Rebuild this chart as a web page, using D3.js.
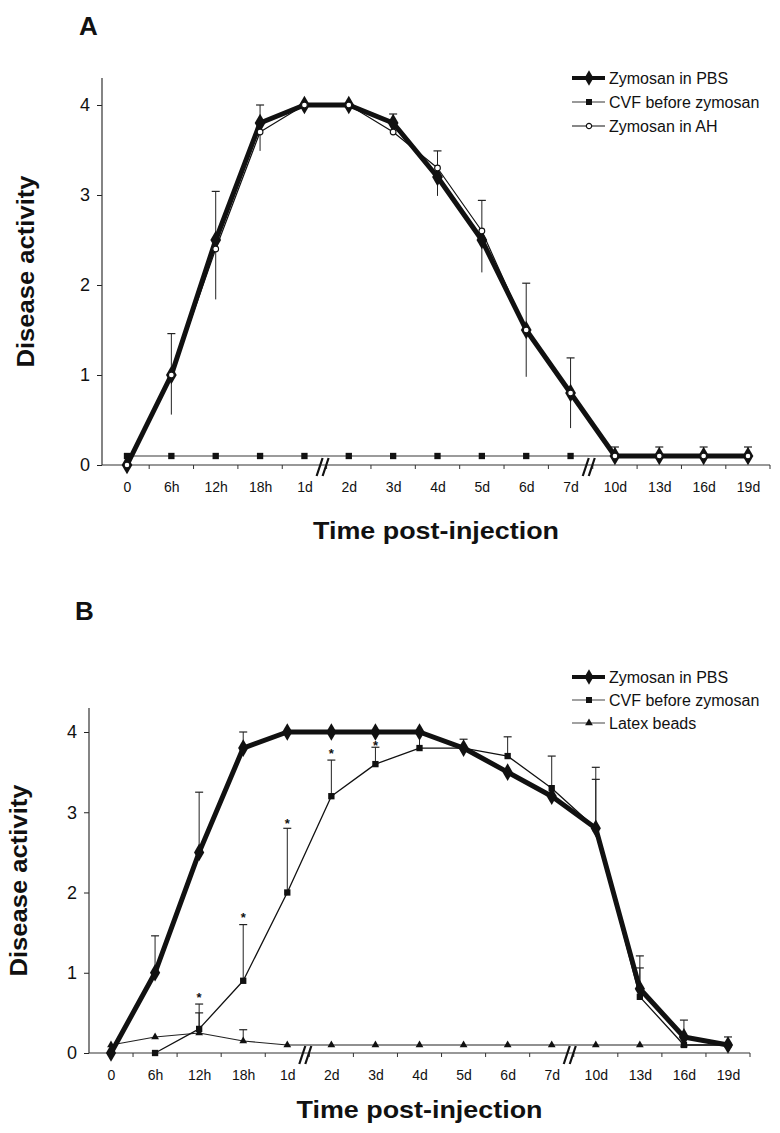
<!DOCTYPE html>
<html><head><meta charset="utf-8">
<script src="https://cdn.jsdelivr.net/npm/d3@7"></script>
<style>body{margin:0;background:#fff}svg{display:block}text{font-family:"Liberation Sans",Arial,sans-serif;fill:#111}</style>
</head><body>
<script>
const categories = ["0","6h","12h","18h","1d","2d","3d","4d","5d","6d","7d","10d","13d","16d","19d"];
const yTicks = [0,1,2,3,4];
const breakAfter = ["1d","7d"];

// Panel A
const aPBS = [0, 1, 2.5, 3.8, 4, 4, 3.8, 3.2, 2.5, 1.5, 0.8, 0.1, 0.1, 0.1, 0.1];
const aCVF = [0.1, 0.1, 0.1, 0.1, 0.1, 0.1, 0.1, 0.1, 0.1, 0.1, 0.1, 0.1, 0.1, 0.1, 0.1];
const aAH  = [0, 1, 2.4, 3.7, 4, 4, 3.7, 3.3, 2.6, 1.5, 0.8, 0.1, 0.1, 0.1, 0.1];
const aErrHi = [null, 1.46, 3.04, 4.0, null, null, 3.9, 3.49, 2.94, 2.02, 1.19, 0.2, 0.2, 0.2, 0.2];
const aErrLo = [null, 0.56, 1.84, 3.49, null, null, 3.7, 2.99, 2.14, 0.98, 0.41, 0.1, 0.1, 0.1, 0.1];
const aLegend = ["Zymosan in PBS", "CVF before zymosan", "Zymosan in AH"];

// Panel B
const bPBS   = [0, 1, 2.5, 3.8, 4, 4, 4, 4, 3.8, 3.5, 3.2, 2.8, 0.8, 0.2, 0.1];
const bCVF   = [null, 0, 0.3, 0.9, 2.0, 3.2, 3.6, 3.8, 3.8, 3.7, 3.3, 2.8, 0.7, 0.1, 0.1];
const bLatex = [0.1, 0.2, 0.25, 0.15, 0.1, 0.1, 0.1, 0.1, 0.1, 0.1, 0.1, 0.1, 0.1, 0.1, 0.1];
const bPBSErr   = [null, 1.46, 3.25, 4.0, null, null, null, null, 3.91, null, null, 3.56, 1.21, 0.41, 0.2];
const bCVFErr   = [null, null, 0.61, 1.6, 2.8, 3.65, 3.81, 4.0, null, 3.94, 3.7, 3.41, 1.06, null, null];
const bLatexErr = [null, null, 0.5, 0.29, null, null, null, null, null, null, null, null, null, null, null];
const bStars    = [null, null, 0.74, 1.73, 2.9, 3.77, 3.87, null, null, null, null, null, null, null, null];
const bLegend = ["Zymosan in PBS", "CVF before zymosan", "Latex beads"];

const svg = d3.select("body").append("svg").attr("width", 780).attr("height", 1133);

function drawPanel(o) {
  const g = svg.append("g");
  const x = d3.scalePoint().domain(categories).range([o.x0, o.x1]);
  const y = d3.scaleLinear().domain([0, 4]).range([o.y0, o.y4]);
  const step = x.step();

  g.append("text").attr("x", o.letterX).attr("y", o.letterY).attr("font-size", 26).attr("font-weight", "bold").text(o.letter);

  const ya = g.append("g").attr("transform", `translate(${o.ax0},0)`)
    .call(d3.axisLeft(y).tickValues(yTicks).tickFormat(d3.format("d")).tickSize(5).tickPadding(7));
  ya.select(".domain").remove();
  ya.selectAll("line").attr("stroke", "#222");
  ya.selectAll("text").attr("font-size", 18).attr("fill", "#111");
  g.append("line").attr("x1", o.ax0).attr("x2", o.ax0).attr("y1", o.yTop).attr("y2", o.y0).attr("stroke", "#333").attr("stroke-width", 1.2);

  const xa = g.append("g").attr("transform", `translate(0,${o.y0})`)
    .call(d3.axisBottom(x).tickSize(0).tickPadding(17));
  xa.select(".domain").remove();
  xa.selectAll("text").attr("font-size", 14).attr("fill", "#111");
  g.append("line").attr("x1", o.ax0).attr("x2", o.ax1).attr("y1", o.y0).attr("y2", o.y0).attr("stroke", "#333").attr("stroke-width", 1.2);
  const mids = categories.slice(0, -1).map(c => x(c) + step / 2);
  g.selectAll(".xt").data(mids).enter().append("line")
    .attr("x1", d => d).attr("x2", d => d).attr("y1", o.y0).attr("y2", o.y0 + 4).attr("stroke", "#333");
  g.append("line").attr("x1", o.ax1).attr("x2", o.ax1).attr("y1", o.y0).attr("y2", o.y0 + 4).attr("stroke", "#333");

  breakAfter.forEach(c => {
    const bx = x(c) + step / 2 - 4;
    [-3, 3].forEach(dx => {
      g.append("line").attr("x1", bx + dx - 3).attr("x2", bx + dx + 3)
        .attr("y1", o.y0 + 11).attr("y2", o.y0 - 7).attr("stroke", "#111").attr("stroke-width", 2.2);
    });
  });

  g.append("text").attr("x", (o.ax0 + o.ax1) / 2).attr("y", o.xTitleY).attr("text-anchor", "middle")
    .attr("font-size", 24).attr("font-weight", "bold").attr("textLength", 246).attr("lengthAdjust", "spacingAndGlyphs")
    .text("Time post-injection");
  g.append("text").attr("transform", `translate(${o.yTitleX},${(o.yTop + o.y0) / 2}) rotate(-90)`).attr("text-anchor", "middle")
    .attr("font-size", 23).attr("font-weight", "bold").attr("textLength", 192).attr("lengthAdjust", "spacingAndGlyphs")
    .text("Disease activity");

  return {g, x, y};
}

function series(g, x, y, vals, stroke, width) {
  const pts = categories.map((c, i) => [c, vals[i]]).filter(d => d[1] != null);
  g.append("path").datum(pts).attr("fill", "none").attr("stroke", stroke).attr("stroke-width", width)
    .attr("stroke-linejoin", "round")
    .attr("d", d3.line().x(d => x(d[0])).y(d => y(d[1])));
  return pts;
}
function markers(g, x, y, pts, type, size, fill, stroke, sw) {
  g.selectAll(null).data(pts).enter().append("path")
    .attr("transform", d => `translate(${x(d[0])},${y(d[1])})`)
    .attr("d", d3.symbol().type(type).size(size))
    .attr("fill", fill).attr("stroke", stroke || "none").attr("stroke-width", sw || 0);
}
function errBar(g, x, y, c, lo, hi, cap) {
  g.append("line").attr("x1", x(c)).attr("x2", x(c)).attr("y1", y(lo)).attr("y2", y(hi)).attr("stroke", "#222").attr("stroke-width", 1);
  g.append("line").attr("x1", x(c) - cap).attr("x2", x(c) + cap).attr("y1", y(hi)).attr("y2", y(hi)).attr("stroke", "#222").attr("stroke-width", 1.2);
}
function legend(g, lx, ly, dy, items) {
  items.forEach((it, i) => {
    const yy = ly + i * dy;
    g.append("line").attr("x1", lx).attr("x2", lx + 33).attr("y1", yy).attr("y2", yy).attr("stroke", it.stroke).attr("stroke-width", it.width);
    g.append("path").attr("transform", `translate(${lx + 17},${yy})`).attr("d", d3.symbol().type(it.type).size(it.size))
      .attr("fill", it.fill).attr("stroke", it.ms || "none").attr("stroke-width", it.msw || 0);
    g.append("text").attr("x", lx + 37).attr("y", yy + 5.5).attr("font-size", 16).text(it.label);
  });
}

// ---------- Panel A ----------
{
  const {g, x, y} = drawPanel({letter: "A", letterX: 79, letterY: 35, x0: 127, x1: 748, ax0: 102, ax1: 770,
    y0: 465, y4: 105, yTop: 78, xTitleY: 539, yTitleX: 34});
  categories.forEach((c, i) => { if (aErrHi[i] != null) errBar(g, x, y, c, aErrLo[i], aErrHi[i], 4); });
  const cvf = series(g, x, y, aCVF, "#7a7a7a", 1.6);
  markers(g, x, y, cvf.slice(0, 11), d3.symbolSquare, 40, "#111");
  const pbs = series(g, x, y, aPBS, "#111", 5);
  const ah = series(g, x, y, aAH, "#111", 1.2);
  markers(g, x, y, pbs, d3.symbolDiamond, 100, "#111");
  markers(g, x, y, ah, d3.symbolCircle, 26, "#fff", "#111", 1.1);
  legend(g, 572, 78, 24, [
    {label: aLegend[0], stroke: "#111", width: 4, type: d3.symbolDiamond, size: 70, fill: "#111"},
    {label: aLegend[1], stroke: "#777", width: 1.5, type: d3.symbolSquare, size: 36, fill: "#111"},
    {label: aLegend[2], stroke: "#111", width: 1.2, type: d3.symbolCircle, size: 22, fill: "#fff", ms: "#111", msw: 1.2}
  ]);
}

// ---------- Panel B ----------
{
  const {g, x, y} = drawPanel({letter: "B", letterX: 75, letterY: 620, x0: 111, x1: 728, ax0: 89, ax1: 750,
    y0: 1053, y4: 732, yTop: 708, xTitleY: 1118, yTitleX: 27});
  categories.forEach((c, i) => {
    if (bPBSErr[i] != null) errBar(g, x, y, c, bPBS[i], bPBSErr[i], 4);
    if (bCVFErr[i] != null) errBar(g, x, y, c, bCVF[i], bCVFErr[i], 4);
    if (bLatexErr[i] != null) errBar(g, x, y, c, bLatex[i], bLatexErr[i], 4);
    if (bStars[i] != null) g.append("text").attr("x", x(c)).attr("y", y(bStars[i]) + 8).attr("text-anchor", "middle")
      .attr("font-size", 13).attr("font-weight", "bold").text("*");
  });
  const lat = series(g, x, y, bLatex, "#222", 1.1);
  markers(g, x, y, lat, d3.symbolTriangle, 26, "#111");
  const cvf = series(g, x, y, bCVF, "#111", 1.3);
  markers(g, x, y, cvf, d3.symbolSquare, 40, "#111");
  const pbs = series(g, x, y, bPBS, "#111", 5);
  markers(g, x, y, pbs, d3.symbolDiamond, 90, "#111");
  legend(g, 572, 677, 23, [
    {label: bLegend[0], stroke: "#111", width: 4, type: d3.symbolDiamond, size: 70, fill: "#111"},
    {label: bLegend[1], stroke: "#444", width: 1.1, type: d3.symbolSquare, size: 36, fill: "#111"},
    {label: bLegend[2], stroke: "#444", width: 1.1, type: d3.symbolTriangle, size: 26, fill: "#111"}
  ]);
}
</script>
</body></html>
